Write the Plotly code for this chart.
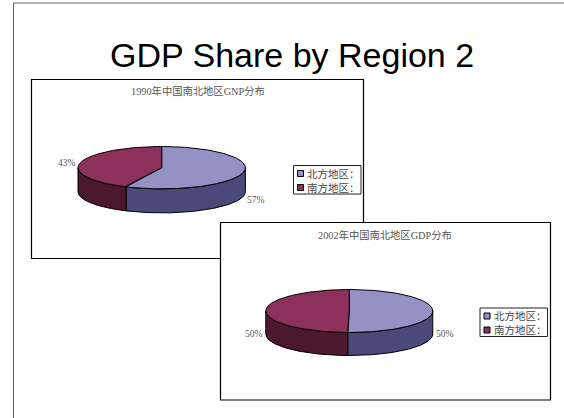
import numpy as np
import plotly.graph_objects as go

# Data
regions = ["北方地区：", "南方地区："]
shares_1990 = [57.0, 43.0]
shares_2002 = [50.3, 49.7]
title_1990 = "1990年中国南北地区GNP分布"
title_2002 = "2002年中国南北地区GDP分布"
slide_title = "GDP Share by Region 2"

# Style
TOP = ["#9491C5", "#8E305C"]
SIDE = ["#4A4A7A", "#4C1830"]
CJK = "Liberation Serif, Noto Sans CJK SC"
GREY = "#555555"
W, H = 564, 418

fig = go.Figure()
shapes, notes = [], []


def note(x, y, text, size=10, color=GREY, anchor="center", family=CJK):
    notes.append(dict(x=x, y=y, text=text, showarrow=False, xanchor=anchor, yanchor="middle",
                      font=dict(size=size, color=color, family=family), xref="x", yref="y",
                      borderpad=0, borderwidth=0))


def pie3d(values, cx, cy, rx, ry, depth):
    total = sum(values)
    edges = np.concatenate([[0], np.cumsum(values)]) / total * 2 * np.pi
    # side walls first (front half only)
    for i in range(len(values)):
        a0, a1 = max(edges[i], np.pi / 2), min(edges[i + 1], 3 * np.pi / 2)
        if a1 <= a0:
            continue
        t = np.linspace(a0, a1, 80)
        ex, ey = cx + rx * np.sin(t), cy - ry * np.cos(t)
        fig.add_trace(go.Scatter(x=np.r_[ex, ex[::-1], ex[0]], y=np.r_[ey, ey[::-1] + depth, ey[0]],
                                 mode="lines", fill="toself", fillcolor=SIDE[i],
                                 line=dict(color="black", width=1), hoverinfo="skip", showlegend=False))
    # top faces
    for i in range(len(values)):
        t = np.linspace(edges[i], edges[i + 1], 160)
        ex, ey = cx + rx * np.sin(t), cy - ry * np.cos(t)
        fig.add_trace(go.Scatter(x=np.r_[cx, ex, cx], y=np.r_[cy, ey, cy],
                                 mode="lines", fill="toself", fillcolor=TOP[i],
                                 line=dict(color="black", width=1), hoverinfo="skip", showlegend=False))


def chart_box(x0, y0, x1, y1):
    shapes.append(dict(type="rect", x0=x0, y0=y0, x1=x1, y1=y1, xref="x", yref="y", layer="below",
                       fillcolor="white", line=dict(color="black", width=1.2)))


def legend(x0, y0, x1, y1, names):
    shapes.append(dict(type="rect", x0=x0, y0=y0, x1=x1, y1=y1, xref="x", yref="y", layer="below",
                       fillcolor="white", line=dict(color="#222222", width=1)))
    ys = [y0 + 8, y0 + 22]
    fig.add_trace(go.Scatter(x=[x0 + 7, x0 + 7], y=ys, mode="markers", hoverinfo="skip", showlegend=False,
                             marker=dict(symbol="square", size=6, color=TOP, line=dict(color="black", width=1))))
    for yy, name in zip(ys, names):
        note(x0 + 13.5, yy, name, size=10.5, color="#444444", anchor="left")


# Slide outline
shapes.append(dict(type="line", x0=13.5, x1=13.5, y0=3, y1=H, xref="x", yref="y", layer="below",
                   line=dict(color="#666666", width=1)))
shapes.append(dict(type="line", x0=13.5, x1=W, y0=3, y1=3, xref="x", yref="y", layer="below",
                   line=dict(color="#666666", width=1)))

note(291.5, 54.5, slide_title, size=34, color="#000000", family="Liberation Sans")

# Chart 1
chart_box(31.5, 79.5, 363.5, 258.5)
note(198, 91, title_1990, size=10.3)
pie3d(shares_1990, 161.7, 167.7, 83.7, 21.2, 24)
note(67, 162.5, f"{round(shares_1990[1])}%", size=9.5)
note(255.7, 199.5, f"{round(shares_1990[0])}%", size=9.5)
legend(293.5, 165.5, 361, 194, regions)

# Chart 2
chart_box(220.5, 222.5, 550.5, 400)
note(385, 234.5, title_2002, size=10.3)
pie3d(shares_2002, 349.3, 311, 83.5, 21.5, 23)
note(253.5, 334, f"{round(shares_2002[1])}%", size=9.5)
note(445, 334, f"{round(shares_2002[0])}%", size=9.5)
legend(480, 308, 547.5, 336.5, regions)

fig.update_layout(width=W, height=H, margin=dict(l=0, r=0, t=0, b=0), showlegend=False,
                  paper_bgcolor="white", plot_bgcolor="white", shapes=shapes, annotations=notes,
                  xaxis=dict(visible=False, range=[0, W], fixedrange=True),
                  yaxis=dict(visible=False, range=[H, 0], fixedrange=True))
fig.write_html("out.html", config=dict(displayModeBar=False),
               post_script="document.body.style.margin='0';document.body.style.overflow='hidden';")
